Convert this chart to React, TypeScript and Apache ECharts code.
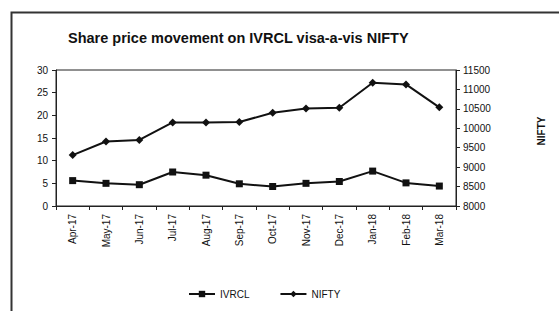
import React, { useEffect, useRef } from "react";
import * as echarts from "echarts";

const categories = ["Apr-17", "May-17", "Jun-17", "Jul-17", "Aug-17", "Sep-17", "Oct-17", "Nov-17", "Dec-17", "Jan-18", "Feb-18", "Mar-18"];
const ivrcl = [5.6, 5.0, 4.7, 7.5, 6.8, 4.9, 4.3, 5.0, 5.4, 7.7, 5.1, 4.4];
const nifty = [9310, 9660, 9700, 10150, 10150, 10160, 10400, 10510, 10530, 11170, 11130, 10540];
const titleText = "Share price movement on IVRCL visa-a-vis NIFTY";

const FONT = "Liberation Sans";

export default function App() {
  const ref = useRef<HTMLDivElement>(null);
  useEffect(() => {
    if (!ref.current) return;
    const chart = echarts.init(ref.current, undefined, { renderer: "svg" });
    chart.setOption({
      animation: false,
      backgroundColor: "#fff",
      textStyle: { fontFamily: FONT, color: "#111" },
      title: {
        text: titleText,
        left: 63,
        top: 25,
        textStyle: { fontFamily: FONT, fontSize: 14.5, fontWeight: "bold", color: "#111" },
      },
      graphic: [
        {
          type: "rect",
          shape: { x: 11.5, y: 12.5, width: 600, height: 400 },
          style: { fill: "none", stroke: "#333", lineWidth: 2 },
          silent: true,
        },
      ],
      legend: {
        left: 183,
        top: 284,
        itemWidth: 26,
        itemHeight: 8,
        itemGap: 30,
        textStyle: { fontFamily: FONT, fontSize: 10, color: "#111" },
        data: ["IVRCL", "NIFTY"],
      },
      grid: {
        left: 56,
        right: 103,
        top: 70,
        bottom: 105,
        show: true,
        borderColor: "#222",
        borderWidth: 1,
      },
      xAxis: {
        type: "category",
        data: categories,
        boundaryGap: true,
        axisLine: { lineStyle: { color: "#222" } },
        axisTick: { show: true, length: 4, lineStyle: { color: "#222" } },
        axisLabel: { rotate: 90, fontSize: 10, color: "#111", margin: 8, fontFamily: FONT },
      },
      yAxis: [
        {
          type: "value",
          min: 0,
          max: 30,
          interval: 5,
          position: "left",
          splitLine: { show: false },
          axisLine: { show: true, lineStyle: { color: "#222" } },
          axisTick: { show: true, length: 4, lineStyle: { color: "#222" } },
          axisLabel: { fontSize: 10, color: "#111", margin: 8, fontFamily: FONT },
        },
        {
          type: "value",
          min: 8000,
          max: 11500,
          interval: 500,
          position: "right",
          name: "NIFTY",
          nameLocation: "middle",
          nameRotate: 90,
          nameGap: 80,
          nameTextStyle: { fontSize: 10, fontWeight: "bold", color: "#111", fontFamily: FONT, padding: [0, 0, 0, 14] },
          splitLine: { show: false },
          axisLine: { show: true, lineStyle: { color: "#222" } },
          axisTick: { show: true, length: 4, lineStyle: { color: "#222" } },
          axisLabel: {
            fontSize: 10,
            color: "#111",
            margin: 7,
            fontFamily: FONT,
            formatter: (v: number) => String(v),
          },
        },
      ],
      series: [
        {
          name: "IVRCL",
          type: "line",
          yAxisIndex: 0,
          data: ivrcl,
          symbol: "rect",
          symbolSize: 7,
          lineStyle: { color: "#111", width: 2 },
          itemStyle: { color: "#111" },
        },
        {
          name: "NIFTY",
          type: "line",
          yAxisIndex: 1,
          data: nifty,
          symbol: "diamond",
          symbolSize: 8,
          lineStyle: { color: "#111", width: 2 },
          itemStyle: { color: "#111" },
        },
      ],
    });
    return () => chart.dispose();
  }, []);
  return (
    <div
      ref={ref}
      style={{ position: "fixed", left: 0, top: 0, width: 559, height: 311 }}
    />
  );
}
